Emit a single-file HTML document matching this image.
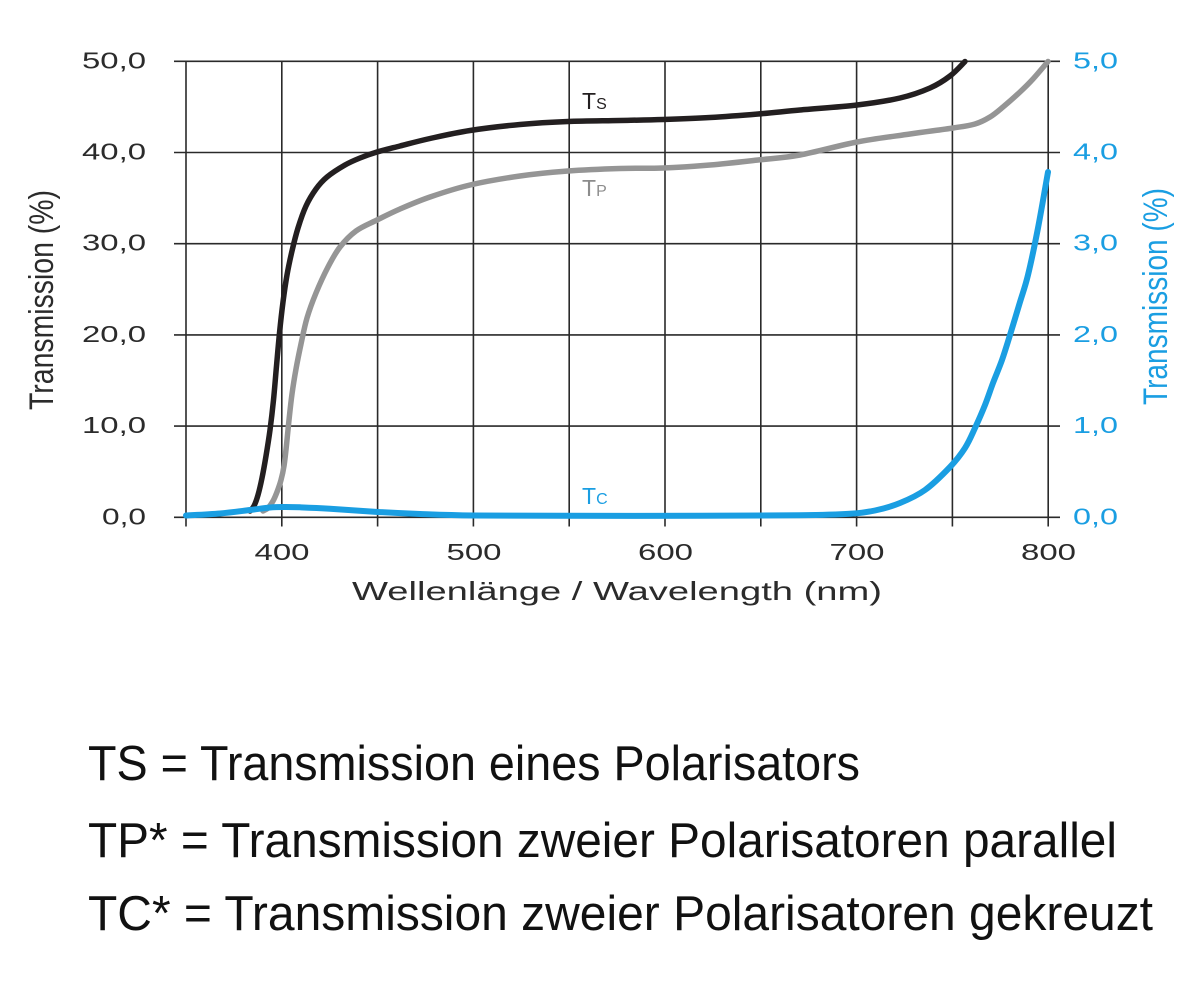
<!DOCTYPE html>
<html>
<head>
<meta charset="utf-8">
<style>
  html, body { margin: 0; padding: 0; background: #ffffff; }
  body { width: 1200px; height: 992px; overflow: hidden; }
  svg { display: block; }
  text { font-family: "Liberation Sans", Arial, sans-serif; }
</style>
</head>
<body>
<svg id="chart" width="1200" height="992" viewBox="0 0 1200 992" xmlns="http://www.w3.org/2000/svg">
  <rect width="1200" height="992" fill="#ffffff"/>

  <!-- Horizontal grid lines (extend beyond plot as ticks) -->
  <g stroke="#2a2a2a" stroke-width="1.6" fill="none">
    <line x1="174" y1="61.3" x2="1060" y2="61.3"/>
    <line x1="174" y1="152.5" x2="1060" y2="152.5"/>
    <line x1="174" y1="243.7" x2="1060" y2="243.7"/>
    <line x1="174" y1="334.9" x2="1060" y2="334.9"/>
    <line x1="174" y1="426.1" x2="1060" y2="426.1"/>
    <line x1="174" y1="517.3" x2="1060" y2="517.3"/>
    <!-- Vertical grid lines -->
    <line x1="186" y1="61.3" x2="186" y2="526.5"/>
    <line x1="281.8" y1="61.3" x2="281.8" y2="526.5"/>
    <line x1="377.6" y1="61.3" x2="377.6" y2="526.5"/>
    <line x1="473.4" y1="61.3" x2="473.4" y2="526.5"/>
    <line x1="569.2" y1="61.3" x2="569.2" y2="526.5"/>
    <line x1="665" y1="61.3" x2="665" y2="526.5"/>
    <line x1="760.8" y1="61.3" x2="760.8" y2="526.5"/>
    <line x1="856.6" y1="61.3" x2="856.6" y2="526.5"/>
    <line x1="952.4" y1="61.3" x2="952.4" y2="526.5"/>
    <line x1="1048.2" y1="61.3" x2="1048.2" y2="526.5"/>
  </g>

  <!-- Tp curve (gray) -->
  <polyline class="sm" fill="none" stroke="#959595" stroke-width="5.5" stroke-linejoin="round" stroke-linecap="round"
    points="263,511 268,508 273,501 277,492 281,480 284,466 286.5,445 289,420 292,394 296,369 301,344 307,318 316,293 328,267 340,247 356,231 377,220 400,209 430,197 470,185 520,176 568,171 620,168.5 663,168 710,165 758,160 800,155 857,142 910,134 953,128 975,124 990,117 1003,107 1020,92 1033,79 1048,61.5"/>

  <!-- Ts curve (black) -->
  <polyline class="sm" fill="none" stroke="#231f20" stroke-width="5.5" stroke-linejoin="round" stroke-linecap="round"
    points="250,511 254,506 258,495 262,478 266,456 270,430 273.5,400 276.5,366 279.5,333 283,302 287,275 292,251 298,228 306,206 316,189 327,177 345,165 360,158 377,152 400,146 430,138.5 470,130.5 520,124.5 568,121.5 620,120.5 663,119.5 710,117.5 758,114 800,110 857,105 900,98 930,88 950,76 965,61.5"/>

  <!-- Tc curve (blue) -->
  <polyline class="sm" fill="none" stroke="#1a9ee2" stroke-width="6" stroke-linejoin="round" stroke-linecap="round"
    points="186,515.5 220,513.5 250,510 270,507.5 285,507 300,507.3 330,508.7 378,512 420,514 473,515.5 560,515.8 700,515.8 800,515.3 850,513.8 875,510.5 900,503 925,490 950,467 965,448 975,428 985,405 993,383 1002,360 1010,335 1020,302 1028,275 1038,228 1048,172"/>

  <!-- Curve labels -->
  <text x="582" y="109" font-size="23" fill="#231f20">T<tspan font-size="16">S</tspan></text>
  <text x="582" y="196" font-size="23" fill="#8c8c8c">T<tspan font-size="16">P</tspan></text>
  <text x="582" y="504" font-size="23" fill="#1a9ee2">T<tspan font-size="16">C</tspan></text>

  <!-- Left axis labels -->
  <g font-size="23" fill="#2b2b2b">
    <text x="82" y="68.3" textLength="64" lengthAdjust="spacingAndGlyphs">50,0</text>
    <text x="82" y="159.5" textLength="64" lengthAdjust="spacingAndGlyphs">40,0</text>
    <text x="82" y="250.7" textLength="64" lengthAdjust="spacingAndGlyphs">30,0</text>
    <text x="82" y="341.9" textLength="64" lengthAdjust="spacingAndGlyphs">20,0</text>
    <text x="82" y="433.1" textLength="64" lengthAdjust="spacingAndGlyphs">10,0</text>
    <text x="102" y="524.3" textLength="44" lengthAdjust="spacingAndGlyphs">0,0</text>
  </g>

  <!-- Right axis labels -->
  <g font-size="23" fill="#1a9ee2">
    <text x="1073" y="68.3" textLength="45" lengthAdjust="spacingAndGlyphs">5,0</text>
    <text x="1073" y="159.5" textLength="45" lengthAdjust="spacingAndGlyphs">4,0</text>
    <text x="1073" y="250.7" textLength="45" lengthAdjust="spacingAndGlyphs">3,0</text>
    <text x="1073" y="341.9" textLength="45" lengthAdjust="spacingAndGlyphs">2,0</text>
    <text x="1073" y="433.1" textLength="45" lengthAdjust="spacingAndGlyphs">1,0</text>
    <text x="1073" y="524.3" textLength="45" lengthAdjust="spacingAndGlyphs">0,0</text>
  </g>

  <!-- Bottom axis labels -->
  <g font-size="23" fill="#2b2b2b">
    <text x="254.5" y="560" textLength="55" lengthAdjust="spacingAndGlyphs">400</text>
    <text x="446.5" y="560" textLength="55" lengthAdjust="spacingAndGlyphs">500</text>
    <text x="638" y="560" textLength="55" lengthAdjust="spacingAndGlyphs">600</text>
    <text x="829.5" y="560" textLength="55" lengthAdjust="spacingAndGlyphs">700</text>
    <text x="1021" y="560" textLength="55" lengthAdjust="spacingAndGlyphs">800</text>
  </g>

  <!-- X axis title -->
  <text x="352" y="600" font-size="26" fill="#2b2b2b" textLength="530" lengthAdjust="spacingAndGlyphs">Wellenlänge / Wavelength (nm)</text>

  <!-- Left axis title -->
  <text transform="translate(53,410) rotate(-90)" x="0" y="0" font-size="34" fill="#2b2b2b" textLength="220" lengthAdjust="spacingAndGlyphs">Transmission (%)</text>

  <!-- Right axis title -->
  <text transform="translate(1167,405) rotate(-90)" x="0" y="0" font-size="34" fill="#1a9ee2" textLength="217" lengthAdjust="spacingAndGlyphs">Transmission (%)</text>

  <!-- Legend lines -->
  <g font-size="49" fill="#111111">
    <text x="88" y="780" textLength="772" lengthAdjust="spacingAndGlyphs">TS = Transmission eines Polarisators</text>
    <text x="88" y="857" textLength="1029" lengthAdjust="spacingAndGlyphs">TP* = Transmission zweier Polarisatoren parallel</text>
    <text x="88" y="930" textLength="1065" lengthAdjust="spacingAndGlyphs">TC* = Transmission zweier Polarisatoren gekreuzt</text>
  </g>
</svg>
<script>
(function(){
  var ns = "http://www.w3.org/2000/svg";
  var lines = document.querySelectorAll("polyline.sm");
  for (var k = 0; k < lines.length; k++) {
    var pl = lines[k];
    var raw = pl.getAttribute("points").trim().split(/\s+/);
    var pts = raw.map(function(s){ var a = s.split(","); return [parseFloat(a[0]), parseFloat(a[1])]; });
    var d = "M" + pts[0][0] + "," + pts[0][1];
    for (var i = 0; i < pts.length - 1; i++) {
      var p0 = pts[i - 1] || pts[i];
      var p1 = pts[i];
      var p2 = pts[i + 1];
      var p3 = pts[i + 2] || p2;
      var c1x = p1[0] + (p2[0] - p0[0]) / 6, c1y = p1[1] + (p2[1] - p0[1]) / 6;
      var c2x = p2[0] - (p3[0] - p1[0]) / 6, c2y = p2[1] - (p3[1] - p1[1]) / 6;
      d += "C" + c1x.toFixed(2) + "," + c1y.toFixed(2) + " " + c2x.toFixed(2) + "," + c2y.toFixed(2) + " " + p2[0] + "," + p2[1];
    }
    var path = document.createElementNS(ns, "path");
    path.setAttribute("d", d);
    ["fill","stroke","stroke-width","stroke-linejoin","stroke-linecap"].forEach(function(a){
      path.setAttribute(a, pl.getAttribute(a));
    });
    pl.parentNode.replaceChild(path, pl);
  }
})();
</script>
</body>
</html>
